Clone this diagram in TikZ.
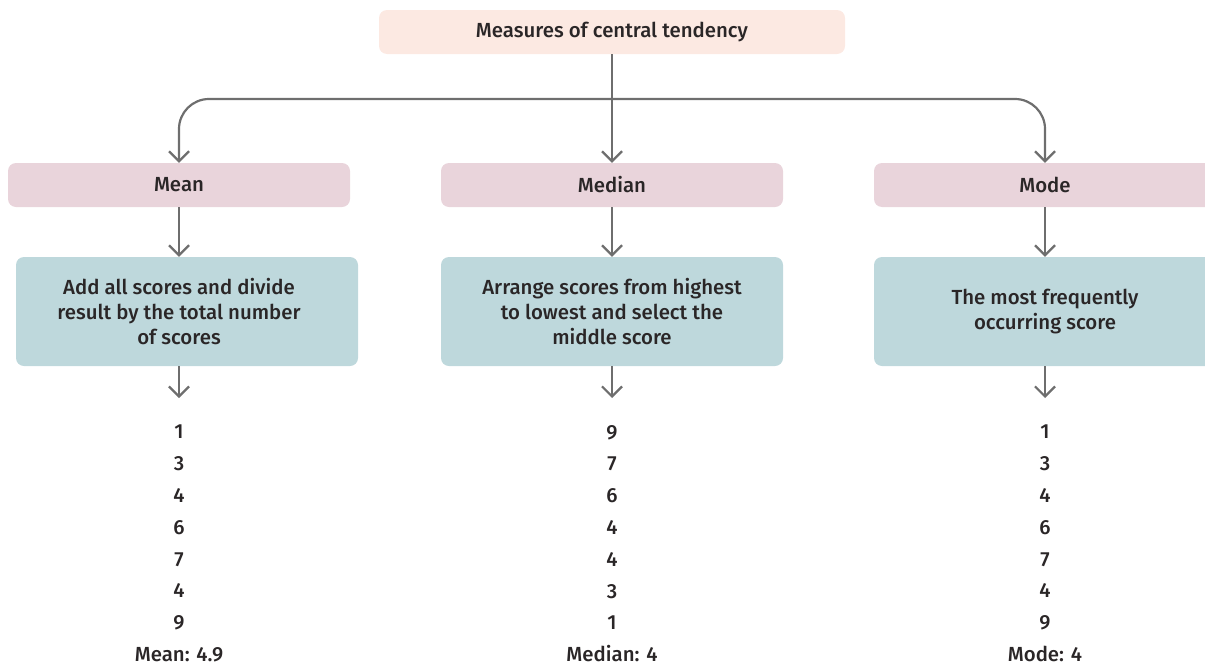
\documentclass[tikz,border=0pt]{standalone}
\usepackage{fontspec}
\setmainfont{Fira Sans}[UprightFont={* Medium}]
\usetikzlibrary{arrows.meta}

\definecolor{peach}{HTML}{FCE9E2}
\definecolor{rose}{HTML}{E9D4DB}
\definecolor{teal}{HTML}{BED8DC}
\definecolor{wire}{HTML}{6E6E6E}
\definecolor{ink}{HTML}{2A2627}

\tikzset{
  box/.style={rounded corners=8pt, inner sep=0pt, text=ink,
    font=\fontsize{20.4}{25}\selectfont, align=center},
  headbox/.style={box, fill=peach, minimum width=466pt, minimum height=44pt},
  kindbox/.style={box, fill=rose, minimum width=342pt, minimum height=44pt},
  descbox/.style={box, fill=teal, minimum width=342pt, minimum height=109pt},
  desctext/.style={text=ink, inner sep=0pt, align=center,
    font=\fontsize{20.4}{25}\selectfont},
  scorelist/.style={text=ink, inner sep=0pt, align=center, anchor=north,
    font=\fontsize{20.4}{31.8}\selectfont},
  arr/.style={draw=wire, line width=2.2pt,
    -{Straight Barb[length=10pt, width=20pt, line width=2.2pt]}},
}

\begin{document}
\begin{tikzpicture}[x=1pt, y=-1pt]
  \clip (0,0) rectangle (1205,667);

  % title
  \node[headbox] (top) at (612,32) {Measures of central tendency};

  % the three measures
  \node[kindbox] (mean)   at (179,185)  {Mean};
  \node[kindbox] (median) at (612,185)  {Median};
  \node[kindbox] (mode)   at (1045,185) {Mode};

  % how each one is found
  \node[descbox] (meanbox) at (187,311.5) {};
  \node[desctext] (meantext) at (179,311.5)
    {Add all scores and divide\\result by the total number\\of scores};
  \node[descbox] (medianbox) at (612,311.5)
    {Arrange scores from highest\\to lowest and select the\\middle score};
  \node[descbox] (modebox) at (1045,311.5)
    {The most frequently\\occurring score};

  % worked examples
  \node[scorelist] (meanlist) at (179,425)
    {1\\3\\4\\6\\7\\4\\9\\Mean: 4.9};
  \node[scorelist] (medianlist) at (612,425)
    {9\\7\\6\\4\\4\\3\\1\\Median: 4};
  \node[scorelist] (modelist) at (1045,425)
    {1\\3\\4\\6\\7\\4\\9\\Mode: 4};

  \coordinate (meanend)   at (179,398);
  \coordinate (medianend) at (612,398);
  \coordinate (modeend)   at (1045,398);

  % connectors
  \coordinate (split) at (612,99);
  \draw[arr] (top.south) -- (median.north);
  \draw[arr, rounded corners=30pt] (split) -| (mean.north);
  \draw[arr, rounded corners=30pt] (split) -| (mode.north);

  \draw[arr] (mean.south)   -- (mean.south |- meanbox.north);
  \draw[arr] (median.south) -- (medianbox.north);
  \draw[arr] (mode.south)   -- (modebox.north);

  \draw[arr] (meantext |- meanbox.south) -- (meanend);
  \draw[arr] (medianbox.south) -- (medianend);
  \draw[arr] (modebox.south)   -- (modeend);
\end{tikzpicture}
\end{document}
